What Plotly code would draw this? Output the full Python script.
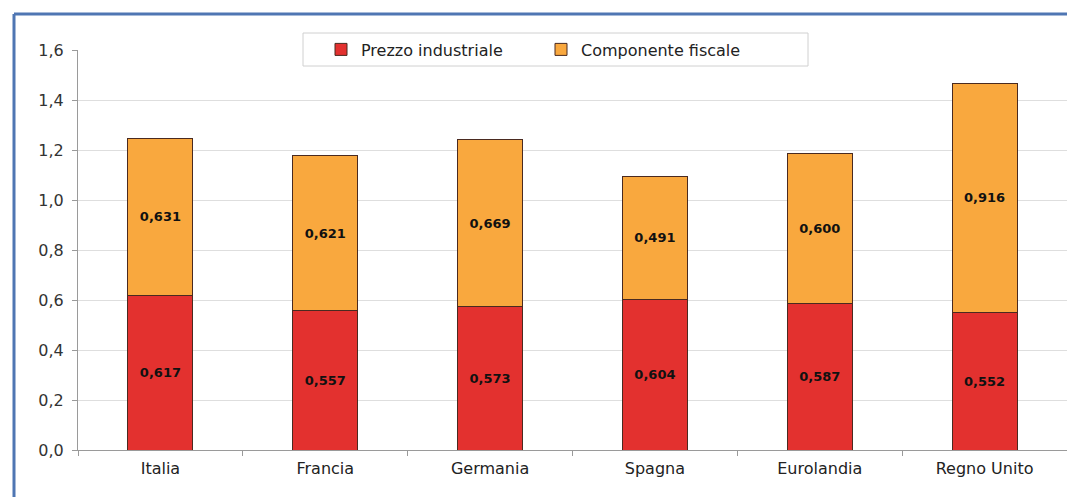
import plotly.graph_objects as go

categories = ["Italia", "Francia", "Germania", "Spagna", "Eurolandia", "Regno Unito"]
prezzo_industriale = [0.617, 0.557, 0.573, 0.604, 0.587, 0.552]
componente_fiscale = [0.631, 0.621, 0.669, 0.491, 0.600, 0.916]
y_ticks = [0.0, 0.2, 0.4, 0.6, 0.8, 1.0, 1.2, 1.4, 1.6]

W, H = 1067, 497
ML, MR, MT, MB = 78, 0, 50, 47
PW = W - ML - MR
PH = H - MT - MB

def px_x(p):
    return (p - ML) / PW

def px_y(p):
    return (H - MB - p) / PH

font_fam = "DejaVu Sans, Verdana, sans-serif"

fig = go.Figure()
fig.add_trace(go.Bar(
    name="Prezzo industriale", x=categories, y=prezzo_industriale,
    marker=dict(color="#E3312F", line=dict(color="#4a2a20", width=1)),
    texttemplate="<b>%{y:.3f}</b>", textposition="inside", insidetextanchor="middle",
    textfont=dict(color="#111111", size=13, family=font_fam), textangle=0,
))
fig.add_trace(go.Bar(
    name="Componente fiscale", x=categories, y=componente_fiscale,
    marker=dict(color="#F9A83E", line=dict(color="#4a2a20", width=1)),
    texttemplate="<b>%{y:.3f}</b>", textposition="inside", insidetextanchor="middle",
    textfont=dict(color="#111111", size=13, family=font_fam), textangle=0,
))

border = dict(color="#4f76b3", width=3)
fig.update_layout(
    width=W, height=H,
    margin=dict(l=ML, r=MR, t=MT, b=MB, pad=0),
    barmode="stack", bargap=0.605,
    separators=",.",
    paper_bgcolor="white", plot_bgcolor="white",
    font=dict(family=font_fam, size=15, color="#333333"),
    legend=dict(
        orientation="h", x=px_x(321), xanchor="left", y=px_y(49.5), yanchor="middle",
        bgcolor="rgba(0,0,0,0)", borderwidth=0,
        font=dict(size=16, color="#222222"), itemwidth=30,
        entrywidth=175, entrywidthmode="pixels",
        traceorder="normal", itemclick=False,
    ),
    showlegend=True,
    shapes=[
        dict(type="rect", xref="paper", yref="paper",
             x0=px_x(303), x1=px_x(808), y0=px_y(66), y1=px_y(33),
             fillcolor="white", line=dict(color="#d0d0d0", width=1), layer="above"),
        dict(type="line", xref="paper", yref="paper",
             x0=px_x(14), x1=px_x(1067), y0=px_y(14), y1=px_y(14),
             line=border, layer="above"),
        dict(type="line", xref="paper", yref="paper",
             x0=px_x(14), x1=px_x(14), y0=px_y(14), y1=px_y(497),
             line=border, layer="above"),
    ],
)
fig.update_xaxes(
    showline=True, linecolor="#9a9a9a", linewidth=1,
    ticks="outside", tickson="boundaries", ticklen=5, tickcolor="#9a9a9a",
    tickfont=dict(size=16, color="#222222"), showgrid=False,
    ticklabelstandoff=4,
)
fig.update_yaxes(
    range=[0, 1.6], tickvals=y_ticks, tickformat=".1f",
    showline=True, linecolor="#9a9a9a", linewidth=1,
    ticks="outside", ticklen=5, tickcolor="#9a9a9a",
    showgrid=True, gridcolor="#dedede", gridwidth=1,
    tickfont=dict(size=16, color="#333333"), zeroline=False,
    ticklabelstandoff=5,
)

fig.write_html(
    "out.html",
    config={"displayModeBar": False},
    post_script="document.body.style.margin='0';document.body.style.overflow='hidden';",
)
